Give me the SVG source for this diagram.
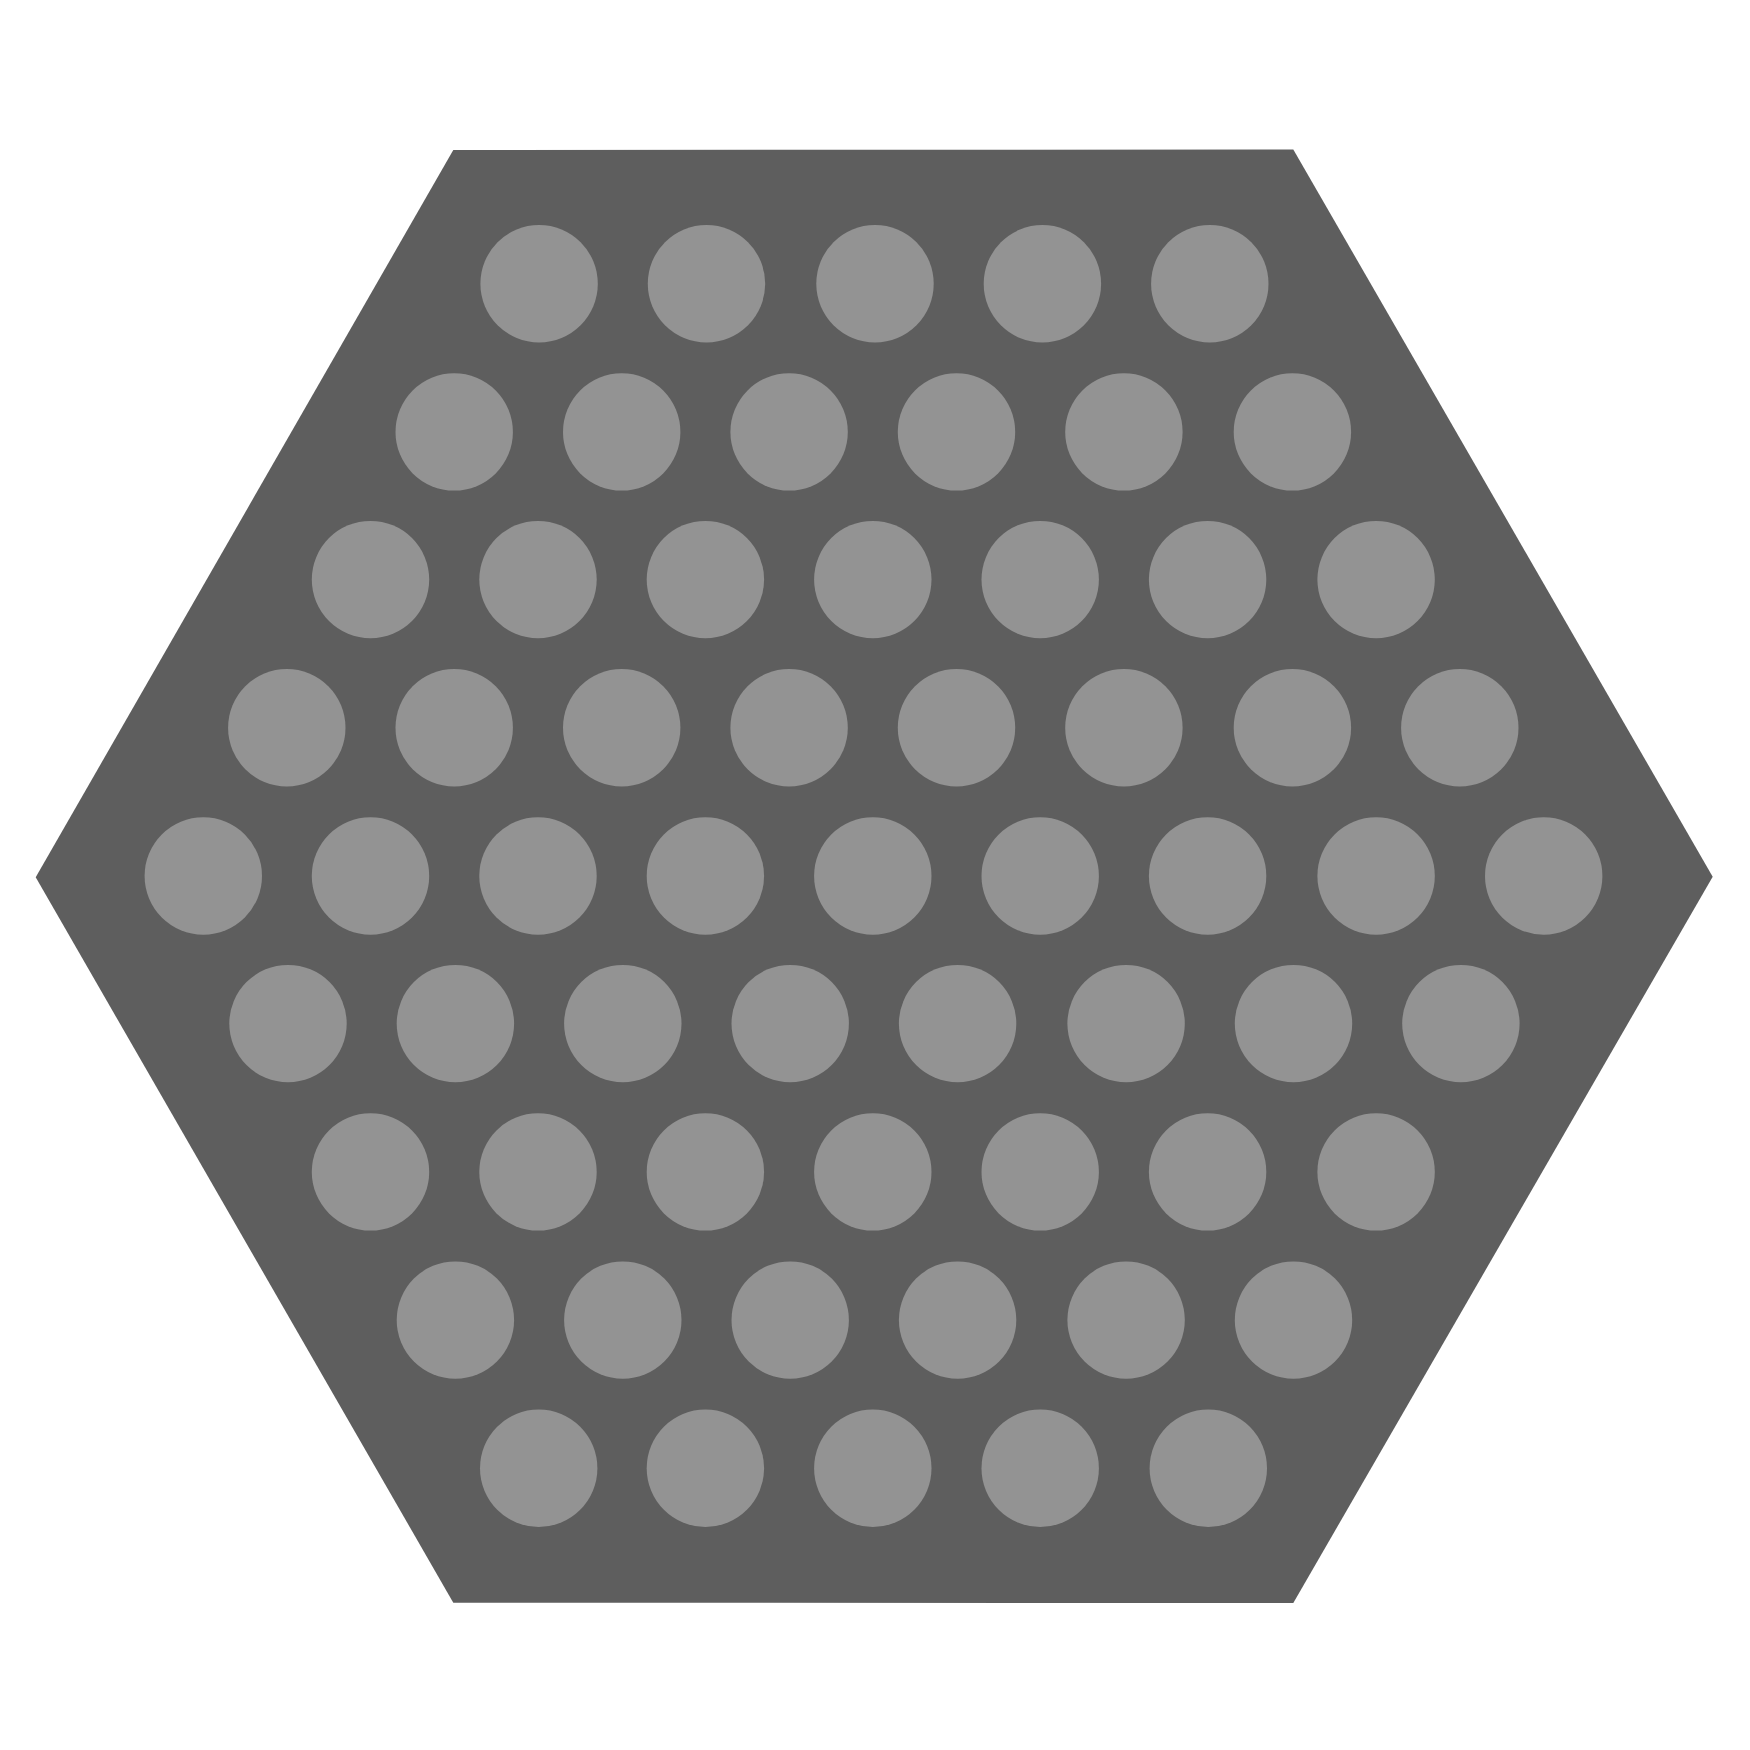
<svg xmlns="http://www.w3.org/2000/svg" width="1750" height="1750" viewBox="0 0 1750 1750">
<style>
.hex{fill:#5e5e5e}
.h{fill:#939393}
</style>
<rect width="1750" height="1750" fill="#ffffff"/>
<polygon id="hexagon" class="hex" points="453.3,150 1293.3,149.5 1712.7,876.7 1293.3,1603 453.3,1602.7 35.7,877.3"/>
<g id="holes">
<g id="row1"><circle class="h" cx="539.1" cy="283.8" r="58.7"/><circle class="h" cx="706.5" cy="283.8" r="58.7"/><circle class="h" cx="875" cy="283.8" r="58.7"/><circle class="h" cx="1042.4" cy="283.8" r="58.7"/><circle class="h" cx="1209.8" cy="283.8" r="58.7"/></g>
<g id="row2"><circle class="h" cx="454.2" cy="431.9" r="58.7"/><circle class="h" cx="621.7" cy="431.9" r="58.7"/><circle class="h" cx="789.1" cy="431.9" r="58.7"/><circle class="h" cx="956.5" cy="431.9" r="58.7"/><circle class="h" cx="1123.9" cy="431.9" r="58.7"/><circle class="h" cx="1292.4" cy="431.9" r="58.7"/></g>
<g id="row3"><circle class="h" cx="370.5" cy="579.6" r="58.7"/><circle class="h" cx="538" cy="579.6" r="58.7"/><circle class="h" cx="705.4" cy="579.6" r="58.7"/><circle class="h" cx="872.8" cy="579.6" r="58.7"/><circle class="h" cx="1040.2" cy="579.6" r="58.7"/><circle class="h" cx="1207.6" cy="579.6" r="58.7"/><circle class="h" cx="1376.1" cy="579.6" r="58.7"/></g>
<g id="row4"><circle class="h" cx="286.8" cy="727.7" r="58.7"/><circle class="h" cx="454.2" cy="727.7" r="58.7"/><circle class="h" cx="621.7" cy="727.7" r="58.7"/><circle class="h" cx="789.1" cy="727.7" r="58.7"/><circle class="h" cx="956.5" cy="727.7" r="58.7"/><circle class="h" cx="1123.9" cy="727.7" r="58.7"/><circle class="h" cx="1292.4" cy="727.7" r="58.7"/><circle class="h" cx="1459.8" cy="727.7" r="58.7"/></g>
<g id="row5"><circle class="h" cx="203.3" cy="876" r="58.7"/><circle class="h" cx="370.5" cy="876" r="58.7"/><circle class="h" cx="538" cy="876" r="58.7"/><circle class="h" cx="705.4" cy="876" r="58.7"/><circle class="h" cx="872.8" cy="876" r="58.7"/><circle class="h" cx="1040.2" cy="876" r="58.7"/><circle class="h" cx="1207.6" cy="876" r="58.7"/><circle class="h" cx="1376.1" cy="876" r="58.7"/><circle class="h" cx="1543.7" cy="876" r="58.7"/></g>
<g id="row6"><circle class="h" cx="288" cy="1023.6" r="58.7"/><circle class="h" cx="455.4" cy="1023.6" r="58.7"/><circle class="h" cx="622.8" cy="1023.6" r="58.7"/><circle class="h" cx="790.2" cy="1023.6" r="58.7"/><circle class="h" cx="957.6" cy="1023.6" r="58.7"/><circle class="h" cx="1126.1" cy="1023.6" r="58.7"/><circle class="h" cx="1293.5" cy="1023.6" r="58.7"/><circle class="h" cx="1460.9" cy="1023.6" r="58.7"/></g>
<g id="row7"><circle class="h" cx="370.5" cy="1171.9" r="58.7"/><circle class="h" cx="538" cy="1171.9" r="58.7"/><circle class="h" cx="705.4" cy="1171.9" r="58.7"/><circle class="h" cx="872.8" cy="1171.9" r="58.7"/><circle class="h" cx="1040.2" cy="1171.9" r="58.7"/><circle class="h" cx="1207.6" cy="1171.9" r="58.7"/><circle class="h" cx="1376.1" cy="1171.9" r="58.7"/></g>
<g id="row8"><circle class="h" cx="455.4" cy="1320.1" r="58.7"/><circle class="h" cx="622.8" cy="1320.1" r="58.7"/><circle class="h" cx="790.2" cy="1320.1" r="58.7"/><circle class="h" cx="957.6" cy="1320.1" r="58.7"/><circle class="h" cx="1126.1" cy="1320.1" r="58.7"/><circle class="h" cx="1293.5" cy="1320.1" r="58.7"/></g>
<g id="row9"><circle class="h" cx="538.7" cy="1468.3" r="58.7"/><circle class="h" cx="705.4" cy="1468.3" r="58.7"/><circle class="h" cx="872.8" cy="1468.3" r="58.7"/><circle class="h" cx="1040.2" cy="1468.3" r="58.7"/><circle class="h" cx="1208.3" cy="1468.3" r="58.7"/></g>
</g>
</svg>
